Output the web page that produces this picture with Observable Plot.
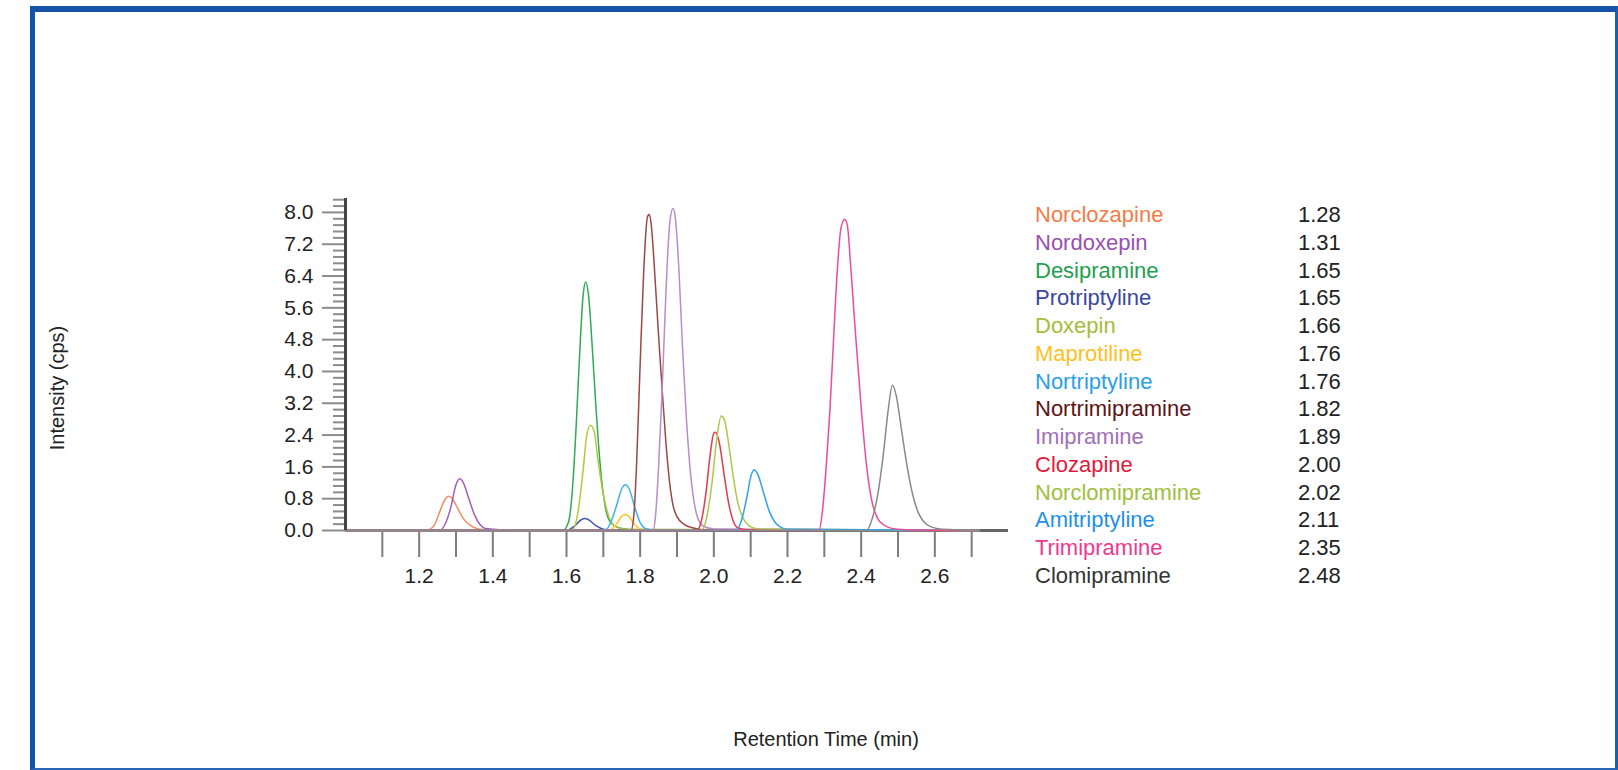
<!DOCTYPE html>
<html>
<head>
<meta charset="utf-8">
<script src="https://cdn.jsdelivr.net/npm/d3@7"></script>
<script src="https://cdn.jsdelivr.net/npm/@observablehq/plot@0.6"></script>
<style>
  html, body { margin: 0; padding: 0; background: #fff; overflow: hidden; }
  #wrap { position: relative; width: 1618px; height: 770px; font-family: "Liberation Sans", Arial, Helvetica, sans-serif; }
  #frame { position: absolute; left: 30px; top: 6px; width: 1588px; height: 764px; box-sizing: border-box;
           border-left: 5px solid #1553a8; border-top: 6px solid #1553a8; border-right: 3px solid #1e5cb0; border-bottom: 2px solid #2a66b8;
           pointer-events: none; z-index: 5; }
  #chart { position: absolute; left: 0; top: 0; }
  .ylab { position: absolute; left: 57px; top: 388px; transform: translate(-50%, -50%) rotate(-90deg); font-size: 20px; color: #222; white-space: nowrap; }
  .xlab { position: absolute; left: 826px; top: 739px; transform: translate(-50%, -50%); font-size: 20px; color: #222; white-space: nowrap; }
  #legend { position: absolute; left: 1035px; top: 201px; font-size: 22px; }
  #legend .row { display: flex; height: 27.75px; line-height: 27.75px; white-space: nowrap; }
  #legend .name { width: 263px; }
  #legend .val { color: #222; }
</style>
</head>
<body>
<div id="wrap">
  <div id="chart"></div>
  <div class="ylab">Intensity (cps)</div>
  <div class="xlab">Retention Time (min)</div>
  <div id="legend"></div>
  <div id="frame"></div>
</div>
<script>
// ---- Data ----
const compounds = ["Norclozapine","Nordoxepin","Desipramine","Protriptyline","Doxepin","Maprotiline","Nortriptyline","Nortrimipramine","Imipramine","Clozapine","Norclomipramine","Amitriptyline","Trimipramine","Clomipramine"];
const retentionTimes = ["1.28","1.31","1.65","1.65","1.66","1.76","1.76","1.82","1.89","2.00","2.02","2.11","2.35","2.48"];
const lineColors = ["#f58d5e","#a35cbc","#2eaa58","#4356b0","#b4c83e","#ffc52a","#3ab4ee","#9a4846","#b98ccb","#e23a4e","#aec84c","#2ea4ee","#f04a9c","#8a8a8a"];
const textColors = ["#f47c48","#9a4fb0","#1fa050","#3a48a0","#a8bc38","#ffc020","#2aa0e8","#5c1414","#a070b8","#e01a3a","#a0c040","#1e90e8","#f03890","#333333"];

// traces: [time (min), intensity (cps)]
const norclozapine = [[1.0,0],[1.22,0],[1.24,0.12],[1.255,0.45],[1.27,0.78],[1.28,0.86],[1.29,0.8],[1.305,0.55],[1.32,0.3],[1.34,0.12],[1.36,0.04],[1.40,0.01],[2.72,0]];
const nordoxepin = [[1.0,0],[1.255,0],[1.27,0.15],[1.285,0.55],[1.30,1.15],[1.31,1.3],[1.32,1.2],[1.335,0.8],[1.35,0.4],[1.365,0.15],[1.38,0.05],[1.42,0.02],[2.72,0]];
const desipramine = [[1.0,0],[1.59,0],[1.605,0.2],[1.615,0.9],[1.625,2.4],[1.635,4.3],[1.645,5.9],[1.652,6.25],[1.66,5.9],[1.67,4.6],[1.68,3.1],[1.69,1.8],[1.70,0.9],[1.71,0.4],[1.725,0.15],[1.75,0.05],[1.80,0.01],[2.72,0]];
const protriptyline = [[1.0,0],[1.60,0],[1.62,0.1],[1.64,0.27],[1.65,0.3],[1.66,0.27],[1.68,0.12],[1.70,0.03],[1.72,0.01],[2.72,0]];
const doxepin = [[1.0,0],[1.615,0],[1.63,0.4],[1.645,1.5],[1.655,2.4],[1.665,2.65],[1.675,2.5],[1.685,1.8],[1.70,0.9],[1.715,0.35],[1.73,0.12],[1.76,0.03],[2.72,0]];
const maprotiline = [[1.0,0],[1.715,0],[1.735,0.15],[1.75,0.36],[1.76,0.4],[1.77,0.35],[1.785,0.15],[1.80,0.04],[1.82,0.01],[2.72,0]];
const nortriptyline = [[1.0,0],[1.705,0],[1.72,0.2],[1.735,0.6],[1.75,1.05],[1.76,1.15],[1.77,1.05],[1.785,0.6],[1.80,0.2],[1.815,0.05],[1.84,0.01],[2.72,0]];
const nortrimipramine = [[1.0,0],[1.775,0],[1.783,0.4],[1.79,1.6],[1.80,4.2],[1.81,6.6],[1.82,7.9],[1.825,7.95],[1.83,7.7],[1.84,6.4],[1.85,4.9],[1.86,3.5],[1.87,2.2],[1.88,1.2],[1.89,0.6],[1.90,0.35],[1.92,0.15],[1.95,0.05],[1.98,0.01],[2.72,0]];
const imipramine = [[1.0,0],[1.835,0],[1.842,0.4],[1.85,1.6],[1.86,3.6],[1.87,6.0],[1.88,7.7],[1.889,8.1],[1.895,7.9],[1.905,6.6],[1.915,4.6],[1.925,2.9],[1.935,1.6],[1.945,0.8],[1.955,0.35],[1.97,0.12],[2.0,0.04],[2.72,0]];
const clozapine = [[1.0,0],[1.955,0],[1.965,0.2],[1.978,0.9],[1.99,1.9],[2.0,2.45],[2.005,2.47],[2.015,2.2],[2.028,1.4],[2.04,0.7],[2.052,0.25],[2.065,0.07],[2.09,0.02],[2.72,0]];
const norclomipramine = [[1.0,0],[1.965,0],[1.98,0.3],[1.995,1.2],[2.008,2.3],[2.02,2.88],[2.028,2.8],[2.04,2.2],[2.052,1.4],[2.065,0.7],[2.08,0.3],[2.095,0.12],[2.12,0.04],[2.72,0]];
const amitriptyline = [[1.0,0],[2.06,0],[2.075,0.25],[2.09,0.85],[2.10,1.35],[2.11,1.53],[2.12,1.4],[2.135,0.95],[2.15,0.5],[2.165,0.22],[2.18,0.09],[2.20,0.03],[2.72,0]];
const trimipramine = [[1.0,0],[2.285,0],[2.295,0.5],[2.305,1.6],[2.315,3.0],[2.325,4.8],[2.335,6.5],[2.345,7.6],[2.355,7.82],[2.362,7.7],[2.372,6.6],[2.385,4.9],[2.40,3.1],[2.415,1.6],[2.43,0.7],[2.445,0.3],[2.46,0.15],[2.48,0.06],[2.52,0.02],[2.72,0]];
const clomipramine = [[1.0,0],[2.415,0],[2.43,0.3],[2.445,0.9],[2.46,1.9],[2.473,3.0],[2.485,3.65],[2.495,3.4],[2.51,2.5],[2.525,1.6],[2.54,0.9],[2.555,0.45],[2.57,0.22],[2.59,0.09],[2.62,0.03],[2.72,0]];

const traces = [norclozapine, nordoxepin, desipramine, protriptyline, doxepin, maprotiline, nortriptyline, nortrimipramine, imipramine, clozapine, norclomipramine, amitriptyline, trimipramine, clomipramine];

// axis ticks
const xTicks = [1.1,1.2,1.3,1.4,1.5,1.6,1.7,1.8,1.9,2.0,2.1,2.2,2.3,2.4,2.5,2.6,2.7];
const xTickLabels = ["","1.2","","1.4","","1.6","","1.8","","2.0","","2.2","","2.4","","2.6",""];
const yMajor = [0,0.8,1.6,2.4,3.2,4.0,4.8,5.6,6.4,7.2,8.0];
const yMinor = [0.16,0.32,0.48,0.64,0.96,1.12,1.28,1.44,1.76,1.92,2.08,2.24,2.56,2.72,2.88,3.04,3.36,3.52,3.68,3.84,4.16,4.32,4.48,4.64,4.96,5.12,5.28,5.44,5.76,5.92,6.08,6.24,6.56,6.72,6.88,7.04,7.36,7.52,7.68,7.84,8.16,8.32];

// ---- build table ----
const rows = [];
traces.forEach((tr, i) => tr.forEach(([t, v]) => rows.push({name: compounds[i], t, v})));

const fontFamily = '"Liberation Sans", Arial, Helvetica, sans-serif';

const chart = Plot.plot({
  width: 1618,
  height: 770,
  marginLeft: 345,
  marginRight: 610,
  marginTop: 198,
  marginBottom: 240,
  style: {background: "transparent", fontFamily, color: "#222"},
  x: {domain: [1.0, 2.8], label: null},
  y: {domain: [0, 8.35], label: null},
  color: {domain: compounds, range: lineColors},
  marks: [
    Plot.axisY(yMinor, {tickSize: 12, tickFormat: () => "", stroke: "#8c8c8c", strokeWidth: 2, label: null}),
    Plot.axisY(yMajor, {tickSize: 23, tickPadding: 9, tickFormat: d => d.toFixed(1), stroke: "#8c8c8c", strokeWidth: 2, fill: "#222", fontSize: 21, label: null}),
    Plot.axisX(xTicks, {tickSize: 27, tickPadding: 11, tickFormat: (d, i) => xTickLabels[xTicks.indexOf(d)] ?? "", stroke: "#7c7c7c", strokeWidth: 2, fill: "#222", fontSize: 21, label: null}),
    Plot.ruleY([0], {stroke: "#666", strokeWidth: 3}),
    Plot.line(rows, {x: "t", y: "v", z: "name", stroke: "name", strokeWidth: 1.5, curve: "monotone-x"}),
    Plot.ruleX([1.0], {stroke: "#444", strokeWidth: 3})
  ]
});
document.getElementById("chart").appendChild(chart);

// ---- legend ----
const legend = document.getElementById("legend");
compounds.forEach((name, i) => {
  const row = document.createElement("div");
  row.className = "row";
  const n = document.createElement("span");
  n.className = "name";
  n.style.color = textColors[i];
  n.textContent = name;
  const v = document.createElement("span");
  v.className = "val";
  v.textContent = retentionTimes[i];
  row.appendChild(n);
  row.appendChild(v);
  legend.appendChild(row);
});
</script>
</body>
</html>
